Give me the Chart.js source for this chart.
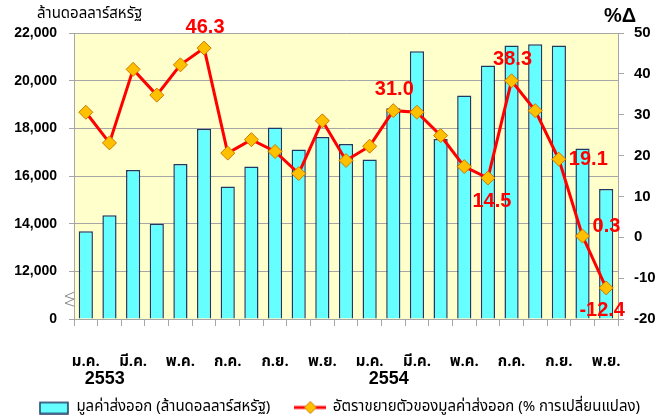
<!DOCTYPE html>
<html>
<head>
<meta charset="utf-8">
<script src="https://cdn.jsdelivr.net/npm/chart.js@4/dist/chart.umd.min.js"></script>
<style>
  html, body { margin: 0; padding: 0; background: #fff; }
  #wrap { width: 661px; height: 418px; position: relative; }
</style>
</head>
<body>
<div id="wrap"><canvas id="exportChart"></canvas></div>
<script>
// Jan 2553 .. Nov 2554
const months = ['ม.ค.', 'ก.พ.', 'มี.ค.', 'เม.ย.', 'พ.ค.', 'มิ.ย.', 'ก.ค.', 'ส.ค.', 'ก.ย.', 'ต.ค.', 'พ.ย.', 'ธ.ค.',
  'ม.ค.', 'ก.พ.', 'มี.ค.', 'เม.ย.', 'พ.ค.', 'มิ.ย.', 'ก.ค.', 'ส.ค.', 'ก.ย.', 'ต.ค.', 'พ.ย.']
const years = [{ index: 0, text: '2553' }, { index: 12, text: '2554' }]

// export value, million USD
const exportValues = [13680, 14350, 16250, 14000, 16500, 17980, 15560, 16400, 18040, 17110, 17640, 17340,
  16690, 18840, 21230, 17550, 19380, 20640, 21480, 21530, 21480, 17150, 15450]
// export growth, % change
const growthRates = [30.6, 23.1, 41.1, 34.8, 42.2, 46.3, 20.6, 23.9, 21.0, 15.6, 28.5, 18.8,
  22.3, 31.0, 30.6, 24.9, 17.3, 14.5, 38.3, 31.0, 19.1, 0.3, -12.4]

// left axis is broken between 0 and 12,000
const leftTicks = [0, 12000, 14000, 16000, 18000, 20000, 22000]
const rightTicks = [-20, -10, 0, 10, 20, 30, 40, 50]

// which growth points get a value label
const labelled = [
  { index: 5, pos: 'top' },
  { index: 13, pos: 'top' },
  { index: 17, pos: 'bottom' },
  { index: 18, pos: 'top' },
  { index: 20, pos: 'right' },
  { index: 21, pos: 'right' },
  { index: 22, pos: 'bottom' },
]

const THAI = '"Noto Sans Thai", Tahoma, "DejaVu Sans", sans-serif'
const NUM = '"Liberation Sans", Arial, sans-serif'
const GRID = '#a6a6a6'

// map a raw value onto the broken axis (0..6)
function toAxis(v) {
  if (v <= leftTicks[1]) return v / leftTicks[1]
  return 1 + (v - leftTicks[1]) / (leftTicks[2] - leftTicks[1])
}

function makeSwatch(kind) {
  const c = document.createElement('canvas')
  c.width = kind === 'bar' ? 30 : 32
  c.height = 14
  const g = c.getContext('2d')
  if (kind === 'bar') {
    g.fillStyle = '#66ffff'
    g.fillRect(1, 2, 28, 11)
    g.strokeStyle = '#1f3864'
    g.lineWidth = 1.5
    g.strokeRect(1, 2, 28, 11)
  } else {
    g.strokeStyle = '#ff0000'
    g.lineWidth = 3
    g.beginPath(); g.moveTo(0, 7); g.lineTo(32, 7); g.stroke()
    g.fillStyle = '#ffc000'
    g.strokeStyle = '#cc7a00'
    g.lineWidth = 1
    g.beginPath(); g.moveTo(16, 1); g.lineTo(22, 7); g.lineTo(16, 13); g.lineTo(10, 7); g.closePath()
    g.fill(); g.stroke()
  }
  return c
}

const extras = {
  id: 'extras',
  beforeDraw(chart) {
    const { ctx, chartArea: a } = chart
    ctx.save()
    ctx.fillStyle = '#ffffcc'
    ctx.fillRect(a.left, a.top, a.right - a.left, a.bottom - a.top)
    ctx.restore()
  },
  afterDatasetsDraw(chart) {
    const { ctx } = chart
    const meta = chart.getDatasetMeta(1)
    ctx.save()
    ctx.fillStyle = '#ff0000'
    ctx.font = 'bold 20px ' + NUM
    labelled.forEach((l) => {
      const p = meta.data[l.index]
      const txt = growthRates[l.index].toFixed(1)
      if (l.pos === 'top') {
        ctx.textAlign = 'center'; ctx.textBaseline = 'middle'
        ctx.fillText(txt, p.x + 1, p.y - 21)
      } else if (l.pos === 'bottom') {
        ctx.textAlign = 'center'; ctx.textBaseline = 'middle'
        ctx.fillText(txt, p.x + (growthRates[l.index] < 0 ? -4 : 4), p.y + 23)
      } else {
        ctx.textAlign = 'left'; ctx.textBaseline = 'middle'
        ctx.fillText(txt, p.x + 10, p.y - (Math.abs(growthRates[l.index]) < 5 ? 10 : 0))
      }
    })
    ctx.restore()
  },
  afterDraw(chart) {
    const { ctx, chartArea: a, scales: { x, y } } = chart
    ctx.save()
    // years under the month labels
    ctx.fillStyle = '#000'
    ctx.font = 'bold 18px ' + NUM
    ctx.textAlign = 'center'
    ctx.textBaseline = 'middle'
    years.forEach((yr) => ctx.fillText(yr.text, x.getPixelForValue(yr.index) + 19, 379))
    // axis units
    ctx.font = '15px ' + THAI
    ctx.textAlign = 'left'
    ctx.fillText('ล้านดอลลาร์สหรัฐ', 37, 15)
    ctx.font = 'bold 20px ' + NUM
    ctx.fillText('%Δ', 604, 16)
    // axis break mark
    const yb = y.getPixelForValue(0.5)
    ctx.strokeStyle = '#8c8c8c'
    ctx.lineWidth = 1
    ctx.beginPath()
    ctx.moveTo(a.left, yb - 3)
    ctx.lineTo(a.left - 9, yb + 1)
    ctx.lineTo(a.left, yb + 4)
    ctx.lineTo(a.left - 9, yb + 8)
    ctx.lineTo(a.left, yb + 11)
    ctx.stroke()
    ctx.restore()
  },
}

Chart.defaults.font.family = NUM
Chart.defaults.color = '#000'

new Chart(document.getElementById('exportChart'), {
  data: {
    labels: months,
    datasets: [
      {
        type: 'bar',
        label: 'มูลค่าส่งออก (ล้านดอลลาร์สหรัฐ)',
        data: exportValues.map(toAxis),
        yAxisID: 'y',
        backgroundColor: '#66ffff',
        borderColor: '#1f3864',
        borderWidth: 1.5,
        barPercentage: 0.6,
        categoryPercentage: 1,
        order: 2,
      },
      {
        type: 'line',
        label: 'อัตราขยายตัวของมูลค่าส่งออก (% การเปลี่ยนแปลง)',
        data: growthRates,
        yAxisID: 'y2',
        borderColor: '#ff0000',
        borderWidth: 3,
        tension: 0,
        pointStyle: 'rectRot',
        pointRadius: 7,
        pointBackgroundColor: '#ffc000',
        pointBorderColor: '#cc7a00',
        pointBorderWidth: 1,
        order: 1,
      },
    ],
  },
  options: {
    responsive: true,
    maintainAspectRatio: false,
    devicePixelRatio: 1,
    animation: false,
    layout: { padding: { top: 33, left: 0, right: -4, bottom: -7 } },
    plugins: {
      tooltip: { enabled: false },
      legend: {
        position: 'bottom',
        align: 'end',
        labels: {
          usePointStyle: true,
          pointStyleWidth: 30,
          boxHeight: 14,
          padding: 25,
          font: { family: THAI, size: 15 },
          generateLabels(chart) {
            return chart.data.datasets.map((ds, i) => ({
              text: ds.label,
              datasetIndex: i,
              pointStyle: makeSwatch(i === 0 ? 'bar' : 'line'),
              fillStyle: 'transparent',
              strokeStyle: 'transparent',
              lineWidth: 0,
              hidden: false,
            }))
          },
        },
      },
    },
    scales: {
      x: {
        offset: true,
        grid: { offset: true, drawOnChartArea: false, color: GRID, tickLength: 7 },
        border: { color: GRID },
        ticks: {
          autoSkip: false,
          maxRotation: 0,
          padding: 28,
          font: { family: THAI, size: 15, weight: 'bold' },
          callback: (v, i) => (i % 2 === 0 ? months[i] : ''),
        },
        afterFit: (s) => { s.height = 56 },
      },
      y: {
        position: 'left',
        min: 0,
        max: leftTicks.length - 1,
        grid: { color: GRID, tickLength: 5 },
        border: { color: GRID },
        ticks: {
          stepSize: 1,
          padding: 12,
          font: { size: 14, weight: 'bold' },
          callback: (v) => leftTicks[v].toLocaleString('en-US'),
        },
        afterFit: (s) => { s.width = 74 },
      },
      y2: {
        position: 'right',
        min: rightTicks[0],
        max: rightTicks[rightTicks.length - 1],
        grid: { drawOnChartArea: false, color: GRID, tickLength: 6 },
        border: { color: GRID },
        ticks: { stepSize: 10, padding: 10, font: { size: 15, weight: 'bold' } },
        afterFit: (s) => { s.width = 47 },
      },
    },
  },
  plugins: [extras],
})
</script>
</body>
</html>
